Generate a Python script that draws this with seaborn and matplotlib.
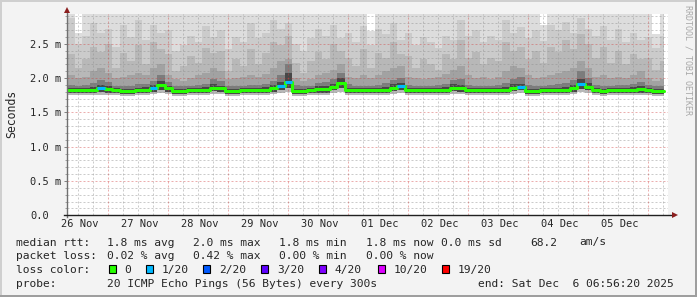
import numpy as np
import pandas as pd
import matplotlib
matplotlib.use("Agg")
import matplotlib.pyplot as plt
from matplotlib.patches import Rectangle
import seaborn as sns

# ------------------------------------------------------------------ data
day_labels = ["26 Nov", "27 Nov", "28 Nov", "29 Nov", "30 Nov",
              "01 Dec", "02 Dec", "03 Dec", "04 Dec", "05 Dec"]

# 3-hour consolidated samples (ms), starting 26 Nov 07:30
median_ms = [1.82, 1.82, 1.82, 1.83, 1.85, 1.84, 1.82, 1.81, 1.81, 1.82,
             1.83, 1.85, 1.90, 1.85, 1.81, 1.81, 1.82, 1.82, 1.83, 1.86,
             1.85, 1.81, 1.81, 1.82, 1.82, 1.82, 1.83, 1.85, 1.88, 1.95,
             1.81, 1.81, 1.82, 1.84, 1.84, 1.87, 1.93, 1.82, 1.82, 1.82,
             1.82, 1.82, 1.83, 1.86, 1.88, 1.82, 1.82, 1.82, 1.82, 1.82,
             1.83, 1.86, 1.85, 1.82, 1.82, 1.82, 1.82, 1.82, 1.83, 1.86,
             1.87, 1.81, 1.81, 1.82, 1.82, 1.82, 1.83, 1.85, 1.91, 1.87,
             1.82, 1.81, 1.82, 1.82, 1.82, 1.83, 1.84, 1.82, 1.81, 1.81]

loss_count = [0, 0, 0, 0, 1, 0, 0, 0, 0, 0,
              0, 1, 0, 0, 0, 0, 0, 0, 0, 0,
              0, 0, 0, 0, 0, 0, 0, 0, 1, 1,
              0, 0, 0, 0, 0, 0, 0, 0, 0, 0,
              0, 0, 0, 0, 1, 0, 0, 0, 0, 0,
              0, 0, 0, 0, 0, 0, 0, 0, 0, 0,
              1, 0, 0, 0, 0, 0, 0, 0, 1, 0,
              0, 0, 0, 0, 0, 0, 0, 0, 0, 0]

smoke_max = [3.00, 2.66, 3.00, 3.00, 3.00, 3.00, 3.00, 3.00, 3.00, 3.00,
             3.00, 3.00, 3.00, 3.00, 3.00, 3.00, 3.00, 3.00, 3.00, 3.00,
             3.00, 3.00, 3.00, 3.00, 3.00, 3.00, 3.00, 3.00, 3.00, 3.00,
             3.00, 3.00, 3.00, 3.00, 3.00, 3.00, 3.00, 3.00, 3.00, 3.00,
             2.68, 3.00, 3.00, 3.00, 3.00, 3.00, 3.00, 3.00, 3.00, 3.00,
             3.00, 3.00, 3.00, 3.00, 3.00, 3.00, 3.00, 3.00, 3.00, 3.00,
             3.00, 3.00, 3.00, 2.78, 3.00, 3.00, 3.00, 3.00, 3.00, 3.00,
             3.00, 3.00, 3.00, 3.00, 3.00, 3.00, 3.00, 3.00, 2.64, 3.00]

smoke_p19 = [2.88, 2.50, 2.62, 2.80, 2.66, 2.72, 2.45, 2.78, 2.60, 2.84,
             2.55, 2.78, 2.66, 2.70, 2.40, 2.48, 2.62, 2.52, 2.76, 2.60,
             2.70, 2.42, 2.60, 2.52, 2.80, 2.58, 2.66, 2.84, 2.72, 2.80,
             2.50, 2.40, 2.58, 2.72, 2.62, 2.78, 2.58, 2.66, 2.52, 2.76,
             2.48, 2.72, 2.64, 2.80, 2.56, 2.66, 2.48, 2.60, 2.52, 2.44,
             2.62, 2.56, 2.84, 2.62, 2.70, 2.52, 2.62, 2.56, 2.84, 2.66,
             2.74, 2.58, 2.70, 2.54, 2.78, 2.70, 2.82, 2.66, 2.88, 2.72,
             2.62, 2.76, 2.56, 2.72, 2.52, 2.66, 2.56, 2.60, 2.44, 2.62]

smoke_p18 = [2.35, 2.15, 2.28, 2.45, 2.38, 2.50, 2.15, 2.36, 2.25, 2.48,
             2.20, 2.52, 2.42, 2.35, 2.10, 2.18, 2.32, 2.22, 2.44, 2.36,
             2.40, 2.10, 2.28, 2.18, 2.42, 2.20, 2.36, 2.52, 2.48, 2.62,
             2.22, 2.08, 2.25, 2.38, 2.28, 2.50, 2.40, 2.30, 2.18, 2.42,
             2.15, 2.36, 2.30, 2.52, 2.35, 2.32, 2.15, 2.28, 2.20, 2.12,
             2.35, 2.28, 2.55, 2.30, 2.38, 2.20, 2.30, 2.25, 2.52, 2.40,
             2.45, 2.28, 2.40, 2.22, 2.45, 2.38, 2.55, 2.42, 2.65, 2.50,
             2.30, 2.45, 2.22, 2.40, 2.20, 2.35, 2.28, 2.30, 2.12, 2.25]

smoke_p17 = [2.05, 2.00, 2.02, 2.10, 2.15, 2.08, 2.00, 2.02, 2.05, 2.08,
             2.05, 2.15, 2.20, 2.05, 1.98, 1.96, 2.00, 2.04, 2.08, 2.15,
             2.10, 1.98, 2.00, 2.02, 2.05, 2.02, 2.06, 2.15, 2.25, 2.28,
             2.00, 1.96, 1.98, 2.05, 2.08, 2.12, 2.20, 2.02, 2.00, 2.04,
             2.00, 2.04, 2.10, 2.15, 2.18, 2.02, 2.00, 1.98, 2.00, 2.02,
             2.06, 2.12, 2.18, 2.05, 2.00, 2.02, 1.98, 2.02, 2.10, 2.18,
             2.15, 2.05, 2.00, 2.02, 2.04, 2.08, 2.10, 2.15, 2.25, 2.15,
             2.02, 2.04, 2.00, 2.02, 2.00, 2.04, 2.10, 2.00, 1.96, 1.98]

smoke_p15 = [1.90, 1.89, 1.90, 1.93, 1.97, 1.94, 1.89, 1.88, 1.89, 1.91,
             1.92, 1.96, 2.05, 1.94, 1.88, 1.88, 1.89, 1.90, 1.92, 1.98,
             1.96, 1.88, 1.88, 1.89, 1.90, 1.90, 1.92, 1.96, 2.05, 2.20,
             1.90, 1.88, 1.89, 1.93, 1.94, 1.98, 2.08, 1.91, 1.89, 1.89,
             1.89, 1.90, 1.93, 1.97, 2.00, 1.90, 1.89, 1.89, 1.89, 1.90,
             1.92, 1.97, 1.98, 1.90, 1.89, 1.89, 1.89, 1.90, 1.93, 1.98,
             2.02, 1.90, 1.88, 1.89, 1.90, 1.91, 1.93, 1.97, 2.10, 2.00,
             1.90, 1.89, 1.89, 1.90, 1.90, 1.92, 1.95, 1.90, 1.88, 1.88]

smoke_p12 = [1.85, 1.85, 1.85, 1.87, 1.90, 1.88, 1.85, 1.84, 1.84, 1.85,
             1.87, 1.90, 1.96, 1.89, 1.84, 1.84, 1.85, 1.85, 1.87, 1.91,
             1.89, 1.84, 1.84, 1.85, 1.85, 1.85, 1.87, 1.90, 1.95, 2.08,
             1.84, 1.84, 1.85, 1.88, 1.88, 1.92, 2.00, 1.85, 1.85, 1.85,
             1.85, 1.85, 1.87, 1.91, 1.93, 1.85, 1.85, 1.85, 1.85, 1.85,
             1.87, 1.91, 1.90, 1.85, 1.85, 1.85, 1.85, 1.85, 1.87, 1.91,
             1.92, 1.84, 1.84, 1.85, 1.85, 1.85, 1.87, 1.90, 1.98, 1.93,
             1.85, 1.84, 1.85, 1.85, 1.85, 1.87, 1.88, 1.85, 1.84, 1.84]

ping_low = [1.78, 1.78, 1.78, 1.79, 1.80, 1.79, 1.78, 1.77, 1.77, 1.78,
            1.79, 1.80, 1.83, 1.80, 1.77, 1.77, 1.78, 1.78, 1.79, 1.81,
            1.80, 1.77, 1.77, 1.78, 1.78, 1.78, 1.79, 1.80, 1.82, 1.86,
            1.77, 1.77, 1.78, 1.79, 1.79, 1.82, 1.85, 1.78, 1.78, 1.78,
            1.78, 1.78, 1.79, 1.81, 1.82, 1.78, 1.78, 1.78, 1.78, 1.78,
            1.79, 1.81, 1.80, 1.78, 1.78, 1.78, 1.78, 1.78, 1.79, 1.81,
            1.82, 1.77, 1.77, 1.78, 1.78, 1.78, 1.79, 1.80, 1.84, 1.82,
            1.78, 1.77, 1.78, 1.78, 1.78, 1.79, 1.79, 1.78, 1.77, 1.77]

ping_min = [1.75, 1.75, 1.75, 1.76, 1.76, 1.76, 1.75, 1.74, 1.74, 1.75,
            1.76, 1.77, 1.79, 1.77, 1.74, 1.74, 1.75, 1.75, 1.76, 1.77,
            1.77, 1.74, 1.74, 1.75, 1.75, 1.75, 1.76, 1.77, 1.78, 1.80,
            1.74, 1.74, 1.75, 1.76, 1.76, 1.78, 1.80, 1.75, 1.75, 1.75,
            1.75, 1.75, 1.76, 1.77, 1.78, 1.75, 1.75, 1.75, 1.75, 1.75,
            1.76, 1.77, 1.77, 1.75, 1.75, 1.75, 1.75, 1.75, 1.76, 1.77,
            1.78, 1.74, 1.74, 1.75, 1.75, 1.75, 1.76, 1.77, 1.80, 1.78,
            1.75, 1.74, 1.75, 1.75, 1.75, 1.76, 1.76, 1.75, 1.74, 1.74]

y_tick_values = [0.0, 0.5, 1.0, 1.5, 2.0, 2.5]
y_tick_labels = ["0.0", "0.5 m", "1.0 m", "1.5 m", "2.0 m", "2.5 m"]

loss_labels = ["0", "1/20", "2/20", "3/20", "4/20", "10/20", "19/20"]
loss_colors = ["#26ff00", "#00b8ff", "#0059ff", "#5e00ff", "#7e00ff",
               "#dd00ff", "#ff0000"]

rtt_stats = ["1.8 ms avg", "2.0 ms max", "1.8 ms min", "1.8 ms now",
             "0.0 ms sd", "68.2", "am/s"]
loss_stats = ["0.02 % avg", "0.42 % max", "0.00 % min", "0.00 % now"]
probe_text = "20 ICMP Echo Pings (56 Bytes) every 300s"
end_text = "end: Sat Dec  6 06:56:20 2025"

# ------------------------------------------------------------------ style
sns.set_style("white")
plt.rcParams["font.family"] = ["DejaVu Sans Mono", "DejaVu Sans"]

W, H = 697, 297
fig = plt.figure(figsize=(W / 100, H / 100), dpi=100)
fig.patch.set_facecolor("#F3F3F3")


def fx(px):
    return px / W


def fy(py):
    return 1 - py / H


# borders
fig.add_artist(Rectangle((0, fy(2)), 1, 2 / H, transform=fig.transFigure, color="#CFCFCF", lw=0))
fig.add_artist(Rectangle((0, 0), 2 / W, 1, transform=fig.transFigure, color="#CFCFCF", lw=0))
fig.add_artist(Rectangle((0, 0), 1, 2 / H, transform=fig.transFigure, color="#9E9E9E", lw=0))
fig.add_artist(Rectangle((fx(W - 2), 0), 2 / W, 1, transform=fig.transFigure, color="#9E9E9E", lw=0))

ax_l, ax_r, ax_t, ax_b = 67, 668, 14, 215.3
ax = fig.add_axes([fx(ax_l), fy(ax_b), (ax_r - ax_l) / W, (ax_b - ax_t) / H])
ax.set_facecolor("white")

t_start, t_end = 7.5, 246.3          # hours after 26 Nov 00:00
x_lim = (7.5, 7.5 + (ax_r - ax_l) / 2.5)
y_lim = (0.0, (ax_b - ax_t) / 68.6)
n = len(median_ms)
edges = np.linspace(t_start, t_start + 3 * n, n + 1)
edges[-1] = t_end


def ext(a):
    a = np.asarray(a, dtype=float)
    return np.append(a, a[-1])


bands = [(ping_min, smoke_max, "#DDDDDD"),
         (ping_min, smoke_p19, "#CBCBCB"),
         (ping_min, smoke_p18, "#B8B8B8"),
         (ping_low, smoke_p17, "#A2A2A2"),
         (ping_low, smoke_p15, "#7C7C7C"),
         (ping_low, smoke_p12, "#474747")]
for lo, hi, c in bands:
    ax.fill_between(edges, ext(lo), ext(hi), step="post", color=c, lw=0, zorder=1)

# grid
minor_c = (0.55, 0.55, 0.55, 0.45)
major_c = (0.82, 0.25, 0.25, 0.42)
dot = (0, (2, 2))
for v in np.arange(0.1, y_lim[1], 0.1):
    is_major = abs(v / 0.5 - round(v / 0.5)) < 1e-6
    ax.axhline(v, color=major_c if is_major else minor_c, lw=0.72, ls=dot, zorder=3)
for h in np.arange(12, x_lim[1], 6):
    is_major = h % 24 == 0
    ax.axvline(h, color=major_c if is_major else minor_c, lw=0.72, ls=dot, zorder=3)

# median line
df = pd.DataFrame({"t": edges, "median": ext(median_ms)})
sns.lineplot(data=df, x="t", y="median", drawstyle="steps-post", color=loss_colors[0],
             linewidth=2.2, ax=ax, zorder=4, errorbar=None)
for k, cnt in enumerate(loss_count):
    if cnt > 0:
        ax.hlines(median_ms[k], edges[k], edges[k + 1], color=loss_colors[cnt],
                  lw=2.2, zorder=5)

ax.set_xlim(*x_lim)
ax.set_ylim(*y_lim)
ax.set_xlabel("")
ax.set_ylabel("")

# axes lines
for s in ["top", "right"]:
    ax.spines[s].set_visible(False)
ax.spines["left"].set_color("#707070")
ax.spines["left"].set_linewidth(1.0)
ax.spines["left"].set_bounds(-0.03, y_lim[1] * 1.02)
ax.spines["bottom"].set_color("#202020")
ax.spines["bottom"].set_linewidth(1.0)
ax.spines["bottom"].set_bounds(x_lim[0] - 1.2, x_lim[1] + 2.4)
ax.spines["left"].set_zorder(6)
ax.spines["bottom"].set_zorder(6)
ax.plot([0], [1.018], marker="^", markersize=4.2, color="#8B1E1E", transform=ax.transAxes,
        clip_on=False, zorder=7, markeredgewidth=0)
ax.plot([1.012], [0], marker=">", markersize=4.2, color="#8B1E1E", transform=ax.transAxes,
        clip_on=False, zorder=7, markeredgewidth=0)

# ticks
ax.set_yticks(y_tick_values)
ax.set_yticklabels(y_tick_labels)
ax.set_yticks(np.arange(0.1, y_lim[1], 0.1), minor=True)
ax.tick_params(axis="y", which="major", length=2.2, width=0.7, color="#808080",
               pad=24.4, labelsize=7.5, left=True)
ax.tick_params(axis="y", which="minor", length=1.6, width=0.7, color="#A0A0A0", left=True)
for lab in ax.get_yticklabels():
    lab.set_horizontalalignment("left")

label_hours = [12.5 + 24 * i for i in range(len(day_labels))]
ax.set_xticks(label_hours)
ax.set_xticklabels(day_labels)
ax.tick_params(axis="x", which="both", length=0, pad=2.6, labelsize=7.5)

# texts
fig.text(fx(12), fy(114), "Seconds", rotation=90, ha="center", va="center", fontsize=8.3)
fig.text(fx(688), fy(5), "RRDTOOL / TOBI OETIKER", rotation=270, ha="center", va="top",
         fontsize=6.0, color="#A8A8A8")

fs = 8.1
base1, base2, base3, base4 = 245.5, 259.3, 273.2, 287.2
fig.text(fx(16), fy(base1), "median rtt:", fontsize=fs, va="baseline")
for xp, s in zip([107.3, 193.3, 279.3, 365.7, 440.7, 530, 579.3], rtt_stats):
    fig.text(fx(xp), fy(base1), s, fontsize=fs, va="baseline")
fig.text(fx(16), fy(base2), "packet loss:", fontsize=fs, va="baseline")
for xp, s in zip([107.3, 193.3, 279.3, 365.7], loss_stats):
    fig.text(fx(xp), fy(base2), s, fontsize=fs, va="baseline")
fig.text(fx(16), fy(base3), "loss color:", fontsize=fs, va="baseline")
sq_x = [108.7, 145.7, 203.3, 261.3, 319.3, 378.3, 442.3]
for xp, lab, col in zip(sq_x, loss_labels, loss_colors):
    fig.add_artist(Rectangle((fx(xp), fy(273.3)), 7 / W, 8 / H, transform=fig.transFigure,
                             facecolor=col, edgecolor="black", lw=0.8))
    fig.text(fx(xp + 15.5), fy(base3), lab, fontsize=fs, va="baseline")
fig.text(fx(16), fy(base4), "probe:", fontsize=fs, va="baseline")
fig.text(fx(107.3), fy(base4), probe_text, fontsize=fs, va="baseline")
fig.text(fx(478.3), fy(base4), end_text, fontsize=fs, va="baseline")

fig.savefig("out.png", dpi=100, facecolor=fig.get_facecolor())
